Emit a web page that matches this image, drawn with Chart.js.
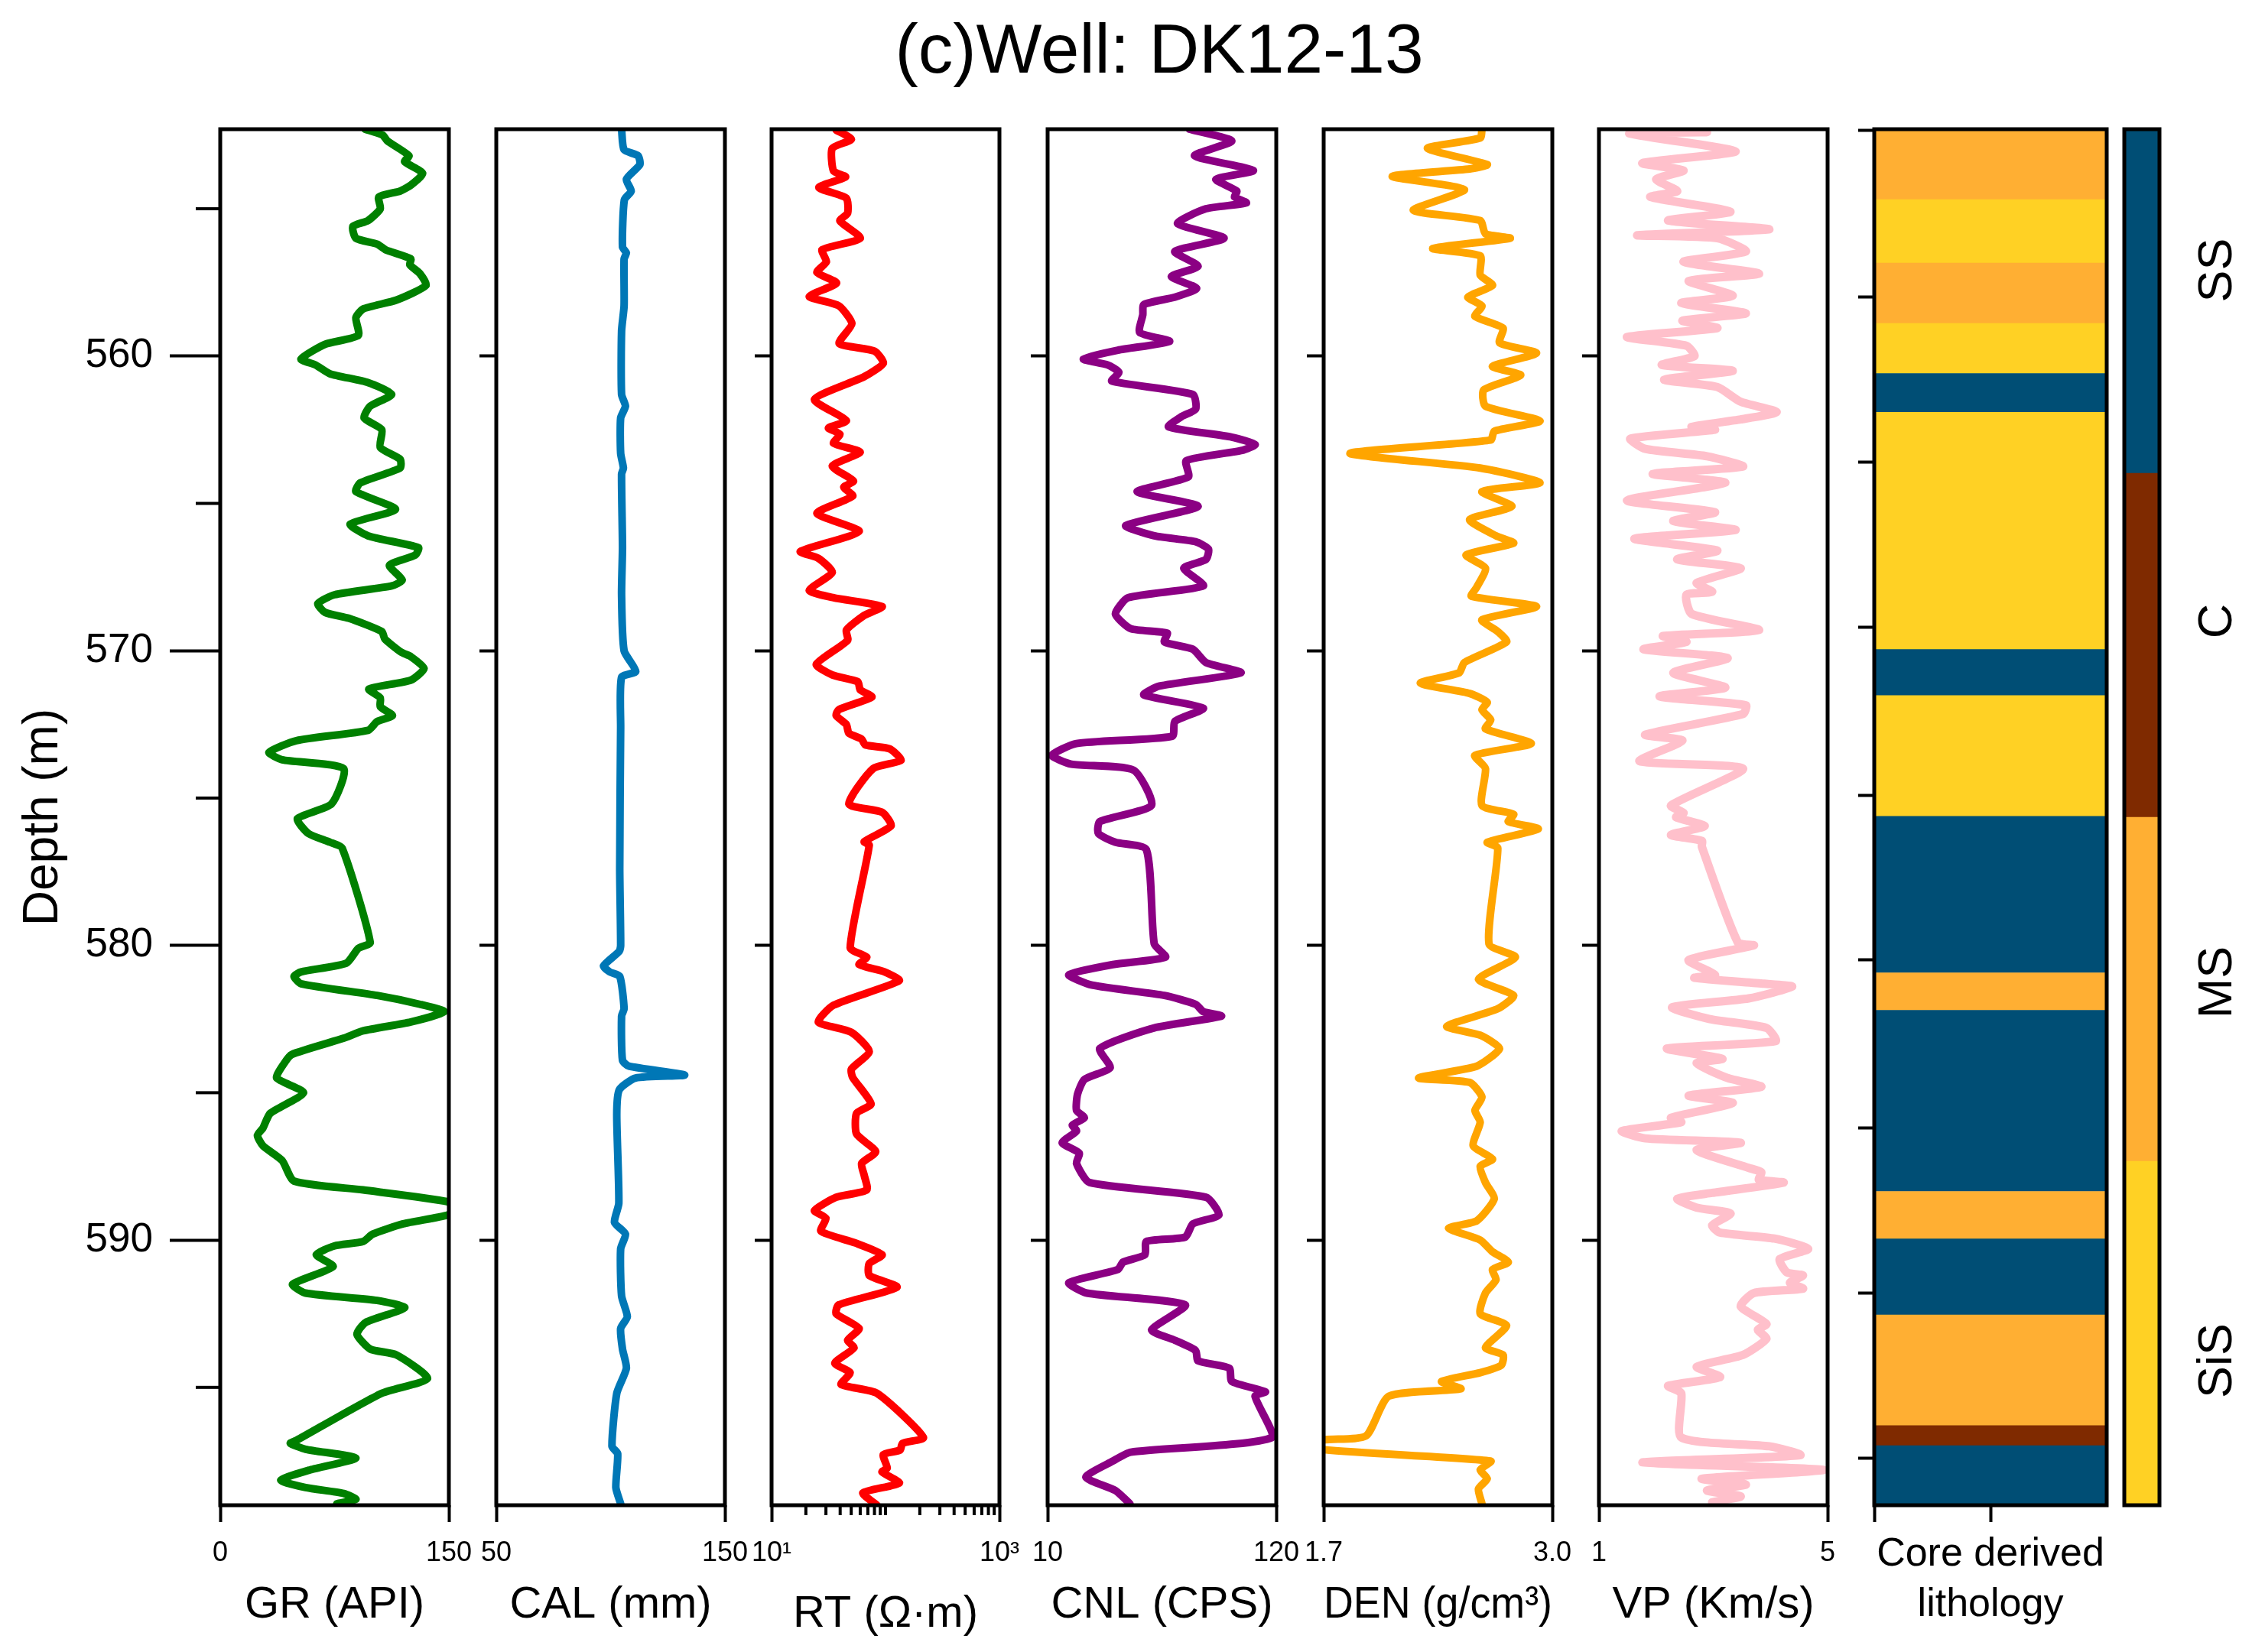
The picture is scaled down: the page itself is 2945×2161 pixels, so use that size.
<!DOCTYPE html>
<html>
<head>
<meta charset="utf-8">
<title>Well DK12-13</title>
<script src="https://cdn.jsdelivr.net/npm/chart.js@4"></script>
<style>
    html, body { margin: 0; padding: 0; background: #fff; width: 2945px; height: 2161px; overflow: hidden; }
    canvas { position: absolute; top: 0; }
    #title { position: absolute; left: 0; width: 3032px; top: 6px; text-align: center; font: 91px "Liberation Sans", sans-serif; color: #000; line-height: 116px; }
</style>
</head>
<body>
<div id="title">(c)Well: DK12-13</div>
<script>
const depthTicks = [560, 570, 580, 590];
const depthMinorTicks = [555, 565, 575, 585, 595];
const lithoTicks = [552.35, 558.0, 563.6, 569.2, 574.9, 580.5, 586.2, 591.8, 597.4];
const rtMinorTicks = [20, 30, 40, 50, 60, 70, 80, 90, 100, 200, 300, 400, 500, 600, 700, 800, 900];

const grDepth = [552.3,552.5,552.7,553.2,553.4,553.8,554.2,554.4,554.6,555,555.4,555.6,556,556.2,556.4,556.7,556.9,557.2,557.6,558.1,558.4,558.7,559.3,559.6,560.1,560.3,560.6,560.9,561.3,561.7,562.1,562.5,563.1,563.5,563.8,564.3,564.6,565.2,565.7,566.1,566.5,566.75,567.1,567.6,567.8,568.1,568.4,568.7,568.9,569.35,569.6,570.05,570.2,570.6,571,571.3,571.6,571.9,572.2,572.4,572.7,573.05,573.45,573.7,574,575.2,575.7,576.2,576.5,576.7,579.9,580.1,580.6,580.9,581.05,581.3,581.7,582,582.25,582.6,582.9,583.15,583.7,584,584.5,585,585.7,586.2,586.45,586.8,587.3,588,588.3,588.7,588.95,589.15,589.45,589.8,590.05,590.2,590.5,590.9,591.5,591.8,592.05,592.3,592.8,593.2,593.7,593.9,594.7,595.2,596.8,596.9,597.1,597.4,597.8,598.15,598.4,598.6,598.8,598.95];
const grValues = [95,106.6,109.7,123.8,121,132.8,125,118,104,105,97,87,89,103,108.7,125,124.4,131,135,115.6,93.8,89,90.6,68.8,53,62.5,72,97,112.5,98.4,94.4,106,105,118,118,92,89,115,85.3,97,130,128,111,119.4,112.5,75,64,68.8,84.4,106,108,118.75,125,133.75,125,97.5,105,105,113,103,97,50,32,40.6,81,73,50.6,57.8,72,80,98.4,90.6,82.8,53,48.4,53,103,131,147,125,93.75,81,47,42,37,54.7,32.8,28,24.4,28,40.6,48.4,93.75,149.4,153,149.4,120,100,93.75,75,63,74,47.5,56,103,121,95.3,89.7,98.4,115.6,136,106,50,46,56,89,59,39.7,56,81,89,76.5];

const calDepth = [552.3,553,553.2,553.5,554,554.4,554.7,556.3,556.5,556.7,558.3,559.15,561.3,561.7,562.1,563.3,563.8,564,566.5,568.1,570,570.7,570.9,572.6,577.4,580,580.2,580.7,580.9,581.05,582.15,582.4,583.9,584.1,584.4,584.5,584.9,585.75,588.75,589.4,589.8,590.3,591.9,592.6,593,593.7,594.35,595.2,597,597.25,598.4,598.95];
const calValues = [104.8,105.9,112,112.8,106.9,109,106,105.2,106.9,105.9,105.9,104.8,104.8,106.5,104.4,104.4,105.6,104.8,105.2,104.8,105.9,111,104.8,104.4,104,104.4,103.8,96.9,99.6,104,105.9,104.8,105.2,108,132.4,111,103.8,102.7,103.6,101.7,106.5,104.4,104.8,107.3,104.4,105.2,106.9,102.7,100.6,103.1,102.3,104.4];

const rtDepth = [552.33,552.64,552.95,553.72,553.92,554.28,554.64,555.15,555.41,556,556.39,556.8,557.16,557.52,557.98,558.29,558.9,559.57,559.83,560.24,560.7,561.47,562.19,562.44,562.65,562.96,563.26,563.73,564.24,564.45,564.75,565.34,565.95,566.63,566.86,567.34,567.95,568.2,568.5,568.8,569.3,569.65,570.46,570.82,571.05,571.33,571.57,572,572.2,572.5,572.8,573,573.2,573.33,573.72,574,575.2,575.48,575.94,576.48,576.6,580.08,580.4,580.65,580.9,581.2,582.03,582.6,582.95,583.6,584.2,584.48,585.38,585.7,586.4,587,587.4,587.8,588.3,588.55,589,589.26,589.7,590.1,590.5,590.8,591.2,591.6,592.2,592.5,593,593.4,593.66,594.18,594.5,594.9,595.2,596.7,596.9,597.13,597.28,597.74,597.87,598.25,598.58,599];
const rtValues = [36.9,50.2,34.1,35,44.6,26,45.3,46.5,39.8,60.1,27.8,30.3,25,37.2,21.4,38.8,50.7,39.2,80,95.7,65,23.8,45.3,31.6,39.8,35,60,34.1,52.3,43,51.5,25,58.7,17.9,25.7,34.1,21.4,35,93.3,65,45.3,46.5,24.7,34.1,57.1,60,75.9,38.8,36.9,45.3,47.7,61.7,66.7,109,137,77.9,47.7,93.3,112,65,72,49,68.5,58.7,98.2,132,35,25.7,50.2,72,50.2,51.5,74.7,55.7,55.7,82,61.7,65,68.5,36.9,23.8,30,27.1,54.3,93.3,72,72,126,38.8,36.9,58.7,46.5,52.9,35.9,48.9,40.8,84.1,215,141,134,95.7,103.5,93.3,132,63.4,84.1];

const cnlDepth = [552.3,552.7,553.2,553.7,554,554.4,554.6,554.8,555,555.5,556,556.45,556.95,557.3,557.7,558,558.25,558.6,559.2,559.5,559.8,560.1,560.3,560.55,560.85,561.3,561.8,562.05,562.4,562.75,563,563.2,563.55,564.1,564.6,565.1,565.75,566.1,566.3,566.55,566.9,567.2,567.8,568.2,568.75,569.25,569.4,569.7,569.95,570.4,570.75,571.2,571.5,571.95,572.4,572.9,573.15,573.55,573.85,574.05,575.25,575.8,576.2,576.5,576.75,579.95,580.4,580.65,581,581.35,581.7,582,582.25,582.4,582.8,583.5,584.15,584.55,585.05,585.6,585.85,586.1,586.3,586.7,587.05,587.4,588.05,588.55,589.15,589.45,589.9,590.05,590.5,590.75,591,591.45,591.8,592.2,593.05,593.4,593.75,594.1,594.35,594.8,595.15,595.3,596.7,597.2,597.5,598.05,598.5,598.95];
const cnlValues = [78.2,98.6,80.7,109,91,101,99.9,105.6,86.2,72.5,94.9,71.2,82.4,69.5,81.7,71.2,56.3,55.8,54.3,68.7,43.8,27.2,38.9,44.3,40.9,79.9,81.2,74.5,68.2,98.6,109.8,103.6,76.7,77.7,53.1,82.4,47.6,61.3,81.2,87.4,86.2,75.5,84.9,48.8,42.6,50,67.5,66.2,79.9,86.2,103,63.8,56.3,84.9,71.2,70,23.9,12,21.4,51.3,60,35.1,34.4,42.6,57.5,61.3,66.7,41.4,20.2,31.4,66.2,81.2,84.9,93.6,61.3,35.1,40.1,27.7,24.4,23.9,27.7,21.9,23.9,17,25.2,23.9,30.2,86.2,92.4,79.9,76.2,57.5,56.8,46.3,43.8,20.2,28.9,76.2,60,71.2,81.2,82.4,97.4,98.6,114.8,109.8,118,50,41.4,28.4,42.6,49.6];

const denDepth = [552.3,552.6,552.95,553.5,553.65,553.9,554.35,555.05,555.4,555.85,556,556.35,556.6,557.25,557.6,558,558.3,558.65,559.05,559.55,559.9,560.35,560.65,561.15,561.7,562.2,562.55,562.85,563.3,563.8,564.3,564.6,565.1,565.55,566.1,566.35,566.75,567.2,567.85,568.15,568.5,568.95,569.35,569.7,570.4,570.75,571.1,571.45,571.75,572,572.35,572.65,573.15,573.55,574,575.25,575.55,575.8,576.05,576.5,576.7,579.95,580.4,581.15,581.7,582.15,582.75,583.05,583.5,584.1,584.5,584.65,585.15,585.6,586,586.8,587.25,587.5,588.05,588.6,589.35,589.6,590,590.4,590.75,591,591.35,591.8,592.5,592.9,593.65,593.9,594.25,594.5,594.8,595.05,595.3,596.65,596.8,597.1,597.5,597.8,598.1,598.45,598.95];
const denValues = [2.6,2.59,2.29,2.63,2.53,2.09,2.5,2.21,2.59,2.62,2.76,2.32,2.59,2.59,2.66,2.52,2.6,2.56,2.72,2.7,2.91,2.66,2.82,2.61,2.62,2.93,2.67,2.65,1.85,2.59,2.93,2.6,2.77,2.53,2.68,2.78,2.51,2.62,2.57,2.54,2.91,2.6,2.69,2.74,2.5,2.47,2.25,2.53,2.63,2.6,2.65,2.62,2.88,2.56,2.62,2.6,2.78,2.75,2.92,2.63,2.69,2.64,2.79,2.58,2.78,2.69,2.4,2.59,2.7,2.57,2.24,2.53,2.6,2.56,2.59,2.55,2.66,2.59,2.62,2.67,2.57,2.41,2.59,2.66,2.75,2.66,2.68,2.62,2.59,2.74,2.62,2.72,2.71,2.59,2.37,2.48,2.07,1.94,1.68,1.68,2.65,2.59,2.63,2.58,2.6];

const vpDepth = [552.3,552.4,552.45,553.05,553.45,553.7,554,554.4,554.6,555.1,555.4,555.7,555.9,556,556.45,556.8,557.2,557.45,557.95,558.2,558.55,558.8,559.05,559.35,559.65,560,560.3,560.5,560.8,561.05,561.55,561.9,562.15,562.4,562.5,562.8,563.15,563.4,563.75,564,564.3,564.9,565.3,565.6,565.9,566.2,566.6,566.9,567.2,567.7,568,568.1,568.75,569.3,569.5,569.7,569.95,570.25,570.75,571.25,571.55,571.85,572.15,572.85,573.05,573.75,574,575.25,575.5,575.65,575.95,576.25,576.45,576.65,579.9,580,580.5,581,581.1,581.3,581.4,581.8,582.1,582.5,582.8,583.25,583.5,583.85,584,584.5,584.8,585.1,585.35,585.85,586,586.3,586.55,586.7,586.95,587.55,587.7,587.95,588.05,588.4,588.6,588.9,589.1,589.5,589.75,589.95,590.3,590.65,591.1,591.2,591.45,591.65,591.8,592.25,592.85,593.05,593.35,593.9,594.3,594.65,594.95,595.2,596.7,597,597.3,597.55,597.8,598.1,598.3,598.5,598.7,598.9];
const vpValues = [1.53,2.89,1.53,3.39,1.76,2.48,2,2.37,1.9,3.3,2.21,3.98,1.67,3.07,3.57,2.48,3.8,2.57,3.34,2.44,3.57,2.46,3.07,1.49,2.53,2.67,2.1,3.34,2.14,3.07,3.48,4.11,3.48,2.62,3.03,1.55,1.81,2.89,3.52,1.94,3.21,1.49,3.03,2.3,3.39,1.62,3.07,2.37,3.48,2.71,2.98,2.53,2.62,3.8,2.12,2.53,1.78,3.25,2.3,3.21,2.06,3.57,3.52,1.81,2.46,1.71,3.52,2.26,2.48,2.35,2.85,2.26,2.8,2.8,3.43,3.71,2.57,3.03,2.67,3.89,4.38,3.62,2.28,2.94,3.93,4.09,2.19,3.16,2.71,3.25,3.84,2.57,3.34,2.26,2.44,1.4,1.81,3.48,2.71,3.62,3.84,3.8,4.23,2.98,2.37,2.71,3.3,2.98,3.12,4.07,4.66,4.16,4.29,4.57,4.34,4.57,3.71,3.48,3.93,3.78,3.93,3.52,2.71,3.12,2.21,2.44,2.44,3.98,4.52,1.76,4.93,2.8,3.57,2.89,3.48,2.98];

const lithoTop = [552.3,554.69,556.84,558.89,560.59,561.91,569.96,571.52,575.62,580.93,582.2,588.35,589.96,592.54,596.3,596.98];
const lithoBase = [554.69,556.84,558.89,560.59,561.91,569.96,571.52,575.62,580.93,582.2,588.35,589.96,592.54,596.3,596.98,599];
const lithoClass = ['MS','SiS','MS','SiS','SS','SiS','SS','SiS','SS','MS','SS','MS','SS','MS','C','SS'];
const lithoNames = ['SS', 'C', 'MS', 'SiS'];
const lithoNamePositions = [0.41, 1.43, 2.48, 3.58];
const lithoColors = { SS: '#004E75', C: '#7F2A00', MS: '#FFAF33', SiS: '#FFD124' };

const depthMin = 552.3;
const depthMax = 599;
const plotTop = 169;
const plotBottom = 1969;
const pageHeight = 2161;
const frameWidth = 5;

Chart.defaults.font.family = '"Liberation Sans", Arial, sans-serif';
Chart.defaults.color = '#000';

// frame, the short ticks chart.js can't do on its own, and the rotated class names
const panelDecor = {
    id: 'panelDecor',
    afterDraw(chart, args, opts) {
        const { ctx, chartArea: a, scales } = chart;
        ctx.save();
        ctx.strokeStyle = '#000';
        ctx.lineWidth = frameWidth;
        ctx.strokeRect(a.left, a.top, a.right - a.left, a.bottom - a.top);
        if (opts.shortY) {
            ctx.lineWidth = 4;
            opts.shortY.forEach(v => {
                const y = scales.y.getPixelForValue(v);
                ctx.beginPath();
                ctx.moveTo(a.left, y);
                ctx.lineTo(a.left - opts.shortYLength, y);
                ctx.stroke();
            });
        }
        if (opts.shortX) {
            ctx.lineWidth = 4;
            opts.shortX.forEach(v => {
                const x = scales.x.getPixelForValue(v);
                ctx.beginPath();
                ctx.moveTo(x, a.bottom);
                ctx.lineTo(x, a.bottom + opts.shortXLength);
                ctx.stroke();
            });
        }
        if (opts.names) {
            ctx.fillStyle = '#000';
            ctx.font = '63px "Liberation Sans", Arial, sans-serif';
            ctx.textAlign = 'center';
            ctx.textBaseline = 'middle';
            opts.names.forEach((name, i) => {
                ctx.save();
                ctx.translate(a.right + 77, scales.y.getPixelForValue(opts.namePositions[i]));
                ctx.rotate(-Math.PI / 2);
                ctx.fillText(name, 0, 0);
                ctx.restore();
            });
        }
        ctx.restore();
    }
};

function addCanvas(left, width) {
    const canvas = document.createElement('canvas');
    canvas.width = width;
    canvas.height = pageHeight;
    canvas.style.left = left + 'px';
    canvas.style.width = width + 'px';
    canvas.style.height = pageHeight + 'px';
    document.body.appendChild(canvas);
    return canvas;
}

function depthAxis(tickValues, tickLength, width, extra) {
    return Object.assign({
        type: 'linear',
        reverse: true,
        min: depthMin,
        max: depthMax,
        afterBuildTicks: s => { s.ticks = tickValues.map(v => ({ value: v })); },
        afterFit: s => { s.width = width; },
        border: { display: false },
        grid: { drawOnChartArea: false, tickLength: tickLength, tickWidth: 4, tickColor: '#000' },
        ticks: { display: false, autoSkip: false }
    }, extra);
}

function valueAxis(type, min, max, tickValues, tickLabels, title, titleBottom) {
    return {
        type: type,
        min: min,
        max: max,
        afterBuildTicks: s => { s.ticks = tickValues.map(v => ({ value: v })); },
        afterFit: s => { s.height = pageHeight - plotBottom; s.paddingLeft = 0; s.paddingRight = 0; },
        border: { display: false },
        grid: { drawOnChartArea: false, tickLength: 22, tickWidth: 4, tickColor: '#000' },
        ticks: {
            autoSkip: false,
            maxRotation: 0,
            minRotation: 0,
            padding: 19,
            font: { size: 36 },
            callback: (v, i) => tickLabels[i]
        },
        title: {
            display: true,
            text: title,
            font: { size: 58 },
            padding: { top: 0, bottom: titleBottom }
        }
    };
}

function drawLog(p) {
    const canvas = addCanvas(p.left - p.gutter, p.gutter + p.width + 70);
    const points = p.values.map((v, i) => ({ x: v, y: p.depth[i] }));
    new Chart(canvas, {
        type: 'scatter',
        data: {
            datasets: [{
                data: points,
                showLine: true,
                borderColor: p.color,
                borderWidth: p.lineWidth || 10,
                borderJoinStyle: 'round',
                borderCapStyle: 'round',
                pointRadius: 0,
                tension: 0.2
            }]
        },
        options: {
            responsive: false,
            animation: false,
            devicePixelRatio: 1,
            layout: { padding: { top: plotTop, right: 70, bottom: 0, left: 0 } },
            plugins: {
                legend: { display: false },
                tooltip: { enabled: false },
                panelDecor: p.decor || {}
            },
            scales: {
                x: valueAxis(p.scale, p.min, p.max, p.ticks, p.tickLabels, p.title, p.titleBottom || 26),
                y: p.yAxis || depthAxis(depthTicks, 22, p.gutter)
            }
        },
        plugins: [panelDecor]
    });
}

drawLog({
    left: 288, width: 299, gutter: 288, color: '#008000', scale: 'linear', min: 0, max: 150,
    ticks: [0, 150], tickLabels: ['0', '150'], title: 'GR (API)', depth: grDepth, values: grValues,
    decor: { shortY: depthMinorTicks, shortYLength: 32 },
    yAxis: depthAxis(depthTicks, 66, 288, {
        ticks: { display: true, autoSkip: false, padding: 22, font: { size: 53 }, callback: v => String(v) },
        title: { display: true, text: 'Depth (m)', font: { size: 64 }, padding: { top: 19, bottom: 0 } }
    })
});
drawLog({
    left: 649, width: 299, gutter: 30, color: '#0077B6', scale: 'linear', min: 50, max: 150,
    ticks: [50, 150], tickLabels: ['50', '150'], title: 'CAL (mm)', depth: calDepth, values: calValues
});
drawLog({
    left: 1009, width: 298, gutter: 30, color: '#FF0000', scale: 'logarithmic', min: 10, max: 1000,
    ticks: [10, 1000], tickLabels: ['10¹', '10³'], title: 'RT (Ω·m)', titleBottom: 14, depth: rtDepth, values: rtValues,
    decor: { shortX: rtMinorTicks, shortXLength: 13 }
});
drawLog({
    left: 1370, width: 299, gutter: 30, color: '#8B0083', scale: 'linear', min: 10, max: 120,
    ticks: [10, 120], tickLabels: ['10', '120'], title: 'CNL (CPS)', depth: cnlDepth, values: cnlValues
});
drawLog({
    left: 1731, width: 299, gutter: 30, color: '#FFA500', scale: 'linear', min: 1.7, max: 3.0,
    ticks: [1.7, 3.0], tickLabels: ['1.7', '3.0'], title: 'DEN (g/cm³)', depth: denDepth, values: denValues
});
drawLog({
    left: 2091, width: 299, gutter: 30, color: '#FFC0CB', lineWidth: 11, scale: 'linear', min: 1, max: 5,
    ticks: [1, 5], tickLabels: ['1', '5'], title: 'VP (Km/s)', depth: vpDepth, values: vpValues
});

// core lithology bands
function drawLitho() {
    const left = 2451, width = 304, gutter = 30;
    const canvas = addCanvas(left - gutter, gutter + width + 60);
    new Chart(canvas, {
        type: 'bar',
        data: {
            datasets: [{
                data: lithoTop.map((t, i) => ({ x: 0.5, y: [t, lithoBase[i]] })),
                backgroundColor: lithoClass.map(c => lithoColors[c]),
                barThickness: width,
                borderWidth: 0
            }]
        },
        options: {
            responsive: false,
            animation: false,
            devicePixelRatio: 1,
            layout: { padding: { top: plotTop, right: 60, bottom: 0, left: 0 } },
            plugins: { legend: { display: false }, tooltip: { enabled: false }, panelDecor: {} },
            scales: {
                x: {
                    type: 'linear',
                    offset: false,
                    min: 0,
                    max: 1,
                    afterBuildTicks: s => { s.ticks = [{ value: 0 }, { value: 0.5 }]; },
                    afterFit: s => { s.height = pageHeight - plotBottom; s.paddingLeft = 0; s.paddingRight = 0; },
                    border: { display: false },
                    grid: { offset: false, drawOnChartArea: false, tickLength: 22, tickWidth: 4, tickColor: '#000' },
                    ticks: { display: false },
                    title: {
                        display: true,
                        text: ['Core derived', 'lithology'],
                        font: { size: 52, lineHeight: 1.27 },
                        padding: { top: 0, bottom: 28 }
                    }
                },
                y: depthAxis(lithoTicks, 21, gutter)
            }
        },
        plugins: [panelDecor]
    });
}

// colour key
function drawKey() {
    const left = 2778, width = 46, gutter = 20;
    const canvas = addCanvas(left - gutter, gutter + width + 130);
    new Chart(canvas, {
        type: 'bar',
        data: {
            datasets: [{
                data: lithoNames.map((n, i) => ({ x: 0.5, y: [i, i + 1] })),
                backgroundColor: lithoNames.map(n => lithoColors[n]),
                barThickness: width,
                borderWidth: 0
            }]
        },
        options: {
            responsive: false,
            animation: false,
            devicePixelRatio: 1,
            layout: { padding: { top: plotTop, right: 130, bottom: pageHeight - plotBottom, left: gutter } },
            plugins: {
                legend: { display: false },
                tooltip: { enabled: false },
                panelDecor: { names: lithoNames, namePositions: lithoNamePositions }
            },
            scales: {
                x: { type: 'linear', offset: false, grid: { offset: false }, min: 0, max: 1, display: false },
                y: { type: 'linear', min: 0, max: 4, reverse: true, display: false }
            }
        },
        plugins: [panelDecor]
    });
}

drawLitho();
drawKey();
</script>
</body>
</html>
